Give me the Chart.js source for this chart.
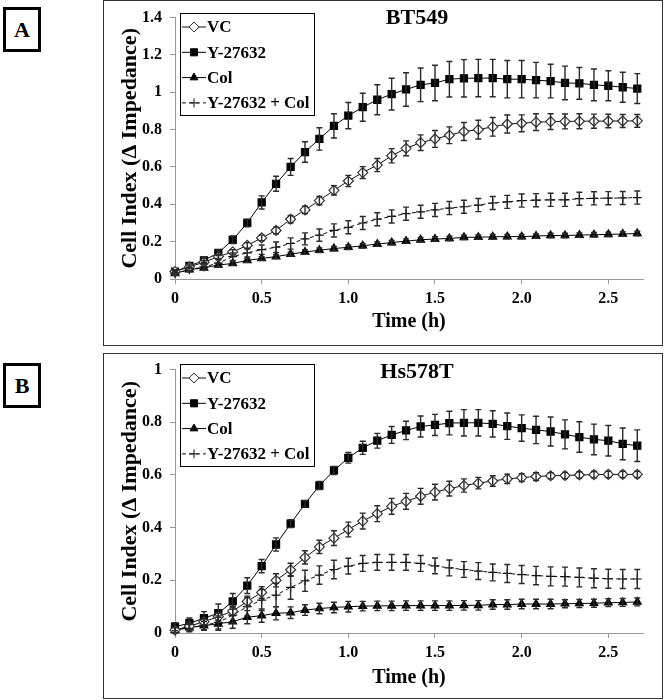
<!DOCTYPE html>
<html>
<head>
<meta charset="utf-8">
<script src="https://cdn.jsdelivr.net/npm/chart.js@4.4.0/dist/chart.umd.min.js"></script>
<style>
body { margin:0; background:#fff; width:665px; height:700px; position:relative; overflow:hidden; }
.panel { position:absolute; left:103px; width:560px; border:1.5px solid #333; box-sizing:border-box; }
.tag { position:absolute; left:3px; width:38px; height:45px; border:3px solid #000; box-sizing:border-box;
       font:bold 22px 'Liberation Serif', serif; text-align:center; line-height:39px; }
canvas { position:absolute; left:103px; }
</style>
</head>
<body>
<div class="tag" style="top:7px">A</div>
<div class="tag" style="top:363px">B</div>
<div class="panel" style="top:0px;height:346px"></div>
<div class="panel" style="top:353px;height:346px"></div>
<canvas id="chartA" width="560" height="345" style="top:0px"></canvas>
<canvas id="chartB" width="560" height="348" style="top:352px"></canvas>
<script>
// time points, hours (every 5 min)
var times = [0, 0.083, 0.167, 0.25, 0.333, 0.417, 0.5, 0.583, 0.667, 0.75, 0.833, 0.917, 1, 1.083, 1.167, 1.25,
             1.333, 1.417, 1.5, 1.583, 1.667, 1.75, 1.833, 1.917, 2, 2.083, 2.167, 2.25, 2.333, 2.417, 2.5, 2.583, 2.667];
var seriesNames = ['VC', 'Y-27632', 'Col', 'Y-27632 + Col'];

// BT549
var bt549VC = [0.04,0.065,0.09,0.12,0.145,0.18,0.22,0.26,0.32,0.37,0.42,0.475,0.525,0.57,0.61,0.66,0.70,0.73,0.75,0.77,0.79,0.80,0.815,0.83,0.834,0.84,0.843,0.844,0.845,0.845,0.846,0.846,0.847];
var bt549VCErr = [0.005,0.005,0.008,0.01,0.012,0.015,0.015,0.018,0.02,0.02,0.022,0.025,0.03,0.032,0.035,0.038,0.04,0.042,0.045,0.045,0.048,0.05,0.05,0.048,0.045,0.045,0.042,0.04,0.04,0.038,0.036,0.035,0.034];
var bt549Y = [0.04,0.07,0.10,0.14,0.21,0.30,0.41,0.51,0.60,0.68,0.75,0.82,0.875,0.92,0.96,0.99,1.015,1.04,1.05,1.07,1.075,1.076,1.076,1.07,1.07,1.065,1.06,1.05,1.048,1.04,1.035,1.027,1.02];
var bt549YErr = [0.01,0.01,0.012,0.015,0.02,0.02,0.035,0.04,0.045,0.055,0.06,0.065,0.07,0.075,0.08,0.085,0.09,0.09,0.095,0.095,0.1,0.1,0.1,0.1,0.1,0.095,0.09,0.09,0.085,0.085,0.08,0.08,0.08];
var bt549Col = [0.03,0.05,0.06,0.075,0.083,0.10,0.11,0.12,0.133,0.145,0.154,0.163,0.17,0.178,0.187,0.195,0.203,0.21,0.214,0.217,0.223,0.224,0.226,0.227,0.227,0.23,0.233,0.233,0.235,0.237,0.239,0.241,0.244];
var bt549ColErr = [0.008,0.008,0.008,0.01,0.01,0.01,0.01,0.01,0.01,0.012,0.012,0.012,0.012,0.012,0.012,0.012,0.012,0.012,0.012,0.012,0.012,0.012,0.012,0.012,0.012,0.012,0.012,0.012,0.012,0.012,0.012,0.012,0.012];
var bt549YCol = [0.03,0.05,0.065,0.085,0.12,0.14,0.157,0.17,0.19,0.215,0.235,0.26,0.277,0.30,0.32,0.335,0.35,0.36,0.37,0.38,0.387,0.396,0.407,0.413,0.42,0.422,0.424,0.424,0.43,0.432,0.433,0.434,0.436];
var bt549YColErr = [0.01,0.012,0.015,0.018,0.02,0.022,0.025,0.028,0.03,0.032,0.033,0.035,0.035,0.035,0.035,0.035,0.035,0.035,0.035,0.035,0.035,0.035,0.035,0.035,0.035,0.035,0.035,0.035,0.035,0.035,0.035,0.035,0.035];

// Hs578T
var hsVC = [0.011,0.026,0.043,0.062,0.083,0.12,0.154,0.2,0.24,0.287,0.327,0.36,0.393,0.425,0.453,0.481,0.5,0.519,0.535,0.548,0.56,0.569,0.577,0.585,0.59,0.594,0.597,0.598,0.6,0.601,0.602,0.602,0.602];
var hsVCErr = [0.01,0.01,0.012,0.015,0.018,0.02,0.022,0.025,0.025,0.025,0.025,0.028,0.028,0.03,0.03,0.03,0.03,0.03,0.03,0.028,0.025,0.022,0.02,0.018,0.015,0.015,0.012,0.012,0.012,0.012,0.012,0.012,0.012];
var hsY = [0.024,0.037,0.056,0.075,0.12,0.18,0.254,0.336,0.415,0.49,0.56,0.617,0.665,0.703,0.73,0.752,0.769,0.784,0.79,0.797,0.798,0.798,0.794,0.785,0.778,0.771,0.765,0.754,0.744,0.735,0.73,0.718,0.711];
var hsYErr = [0.015,0.02,0.025,0.035,0.03,0.03,0.025,0.025,0.015,0.012,0.015,0.015,0.02,0.025,0.028,0.032,0.035,0.04,0.04,0.045,0.05,0.05,0.05,0.05,0.05,0.052,0.055,0.055,0.058,0.058,0.058,0.06,0.06];
var hsCol = [0.011,0.02,0.028,0.035,0.043,0.06,0.066,0.075,0.077,0.087,0.093,0.097,0.1,0.102,0.103,0.103,0.104,0.104,0.104,0.104,0.105,0.105,0.108,0.108,0.11,0.11,0.11,0.111,0.112,0.113,0.115,0.116,0.118];
var hsColErr = [0.01,0.012,0.015,0.025,0.025,0.025,0.025,0.025,0.022,0.02,0.02,0.02,0.02,0.018,0.018,0.018,0.018,0.018,0.018,0.018,0.018,0.018,0.018,0.018,0.018,0.018,0.018,0.015,0.015,0.015,0.015,0.015,0.015];
var hsYCol = [0.012,0.02,0.03,0.04,0.068,0.1,0.125,0.144,0.173,0.198,0.22,0.241,0.254,0.264,0.268,0.268,0.268,0.264,0.255,0.247,0.241,0.235,0.23,0.226,0.222,0.218,0.215,0.214,0.211,0.208,0.206,0.205,0.205];
var hsYColErr = [0.01,0.015,0.02,0.025,0.03,0.035,0.04,0.045,0.045,0.04,0.035,0.035,0.03,0.03,0.03,0.03,0.03,0.03,0.03,0.03,0.03,0.032,0.032,0.034,0.034,0.035,0.036,0.036,0.036,0.036,0.036,0.036,0.036];

var serif = "'Liberation Serif', 'Times New Roman', serif";

// error bars, drawn on top so they show through the open diamonds
const errorBars = {
    id: 'errorBars',
    afterDatasetsDraw(chart) {
        const ctx = chart.ctx, x = chart.scales.x, y = chart.scales.y;
        ctx.save();
        ctx.strokeStyle = '#2a2a2a';
        ctx.lineWidth = 1.4;
        chart.data.datasets.forEach(ds => {
            ds.data.forEach((p, i) => {
                const e = ds.errors[i];
                const px = x.getPixelForValue(p.x);
                const top = y.getPixelForValue(p.y + e), bot = y.getPixelForValue(p.y - e);
                ctx.beginPath();
                ctx.moveTo(px, top); ctx.lineTo(px, bot);
                ctx.moveTo(px - 3, top); ctx.lineTo(px + 3, top);
                ctx.moveTo(px - 3, bot); ctx.lineTo(px + 3, bot);
                ctx.stroke();
            });
        });
        ctx.restore();
    }
};

// boxed legend in the upper left plus the cell line name
const boxLegend = {
    id: 'boxLegend',
    afterDraw(chart, args, opts) {
        const ctx = chart.ctx;
        ctx.save();
        ctx.fillStyle = '#fff';
        ctx.fillRect(opts.x, opts.y, 134, 102);
        ctx.strokeStyle = '#000';
        ctx.lineWidth = 1;
        ctx.strokeRect(opts.x + 0.5, opts.y + 0.5, 134, 102);
        chart.data.datasets.forEach((ds, i) => {
            const cy = opts.y + 14 + i * 25.3;
            ctx.strokeStyle = ds.borderColor;
            ctx.lineWidth = 1;
            ctx.setLineDash(ds.borderDash || []);
            ctx.beginPath();
            ctx.moveTo(opts.x + 2, cy); ctx.lineTo(opts.x + 26, cy);
            ctx.stroke();
            ctx.setLineDash([]);
            ctx.fillStyle = ds.pointBackgroundColor;
            ctx.strokeStyle = ds.pointBorderColor;
            Chart.helpers.drawPoint(ctx, {pointStyle: ds.pointStyle, radius: ds.pointRadius, rotation: 0, borderWidth: 1},
                opts.x + 14, cy);
            ctx.fillStyle = '#000';
            ctx.font = 'bold 17px ' + serif;
            ctx.textBaseline = 'middle';
            ctx.fillText(seriesNames[i], opts.x + 27, cy + 1);
        });
        ctx.font = 'bold 22px ' + serif;
        ctx.textAlign = 'center';
        ctx.fillText(opts.title, opts.titleX, opts.titleY);
        ctx.restore();
    }
};

function pts(vals) {
    return vals.map((v, i) => ({x: times[i], y: v}));
}

function makeChart(id, vals, errs, yMax, padTop, xAxisH, titlePadB, legendY, title, titleY) {
    var styles = [
        {pointStyle: 'rectRot', pointRadius: 5, pointBackgroundColor: '#fff', pointBorderColor: '#333', borderColor: '#111'},
        {pointStyle: 'rect', pointRadius: 5, pointBackgroundColor: '#000', pointBorderColor: '#000', borderColor: '#000'},
        {pointStyle: 'triangle', pointRadius: 4.5, pointBackgroundColor: '#000', pointBorderColor: '#000', borderColor: '#000'},
        {pointStyle: 'cross', pointRadius: 4.5, pointBackgroundColor: '#000', pointBorderColor: '#111', borderColor: '#111', borderDash: [4, 3]}
    ];
    var datasets = vals.map((v, i) => Object.assign({
        data: pts(v),
        errors: errs[i],
        borderWidth: 1,
        pointBorderWidth: 1.2,
        clip: false
    }, styles[i]));

    new Chart(document.getElementById(id), {
        type: 'line',
        data: {datasets: datasets},
        plugins: [errorBars, boxLegend],
        options: {
            responsive: false,
            animation: false,
            layout: {padding: {left: 0, right: 20, top: padTop, bottom: 0}},
            plugins: {
                legend: {display: false},
                tooltip: {enabled: false},
                boxLegend: {x: 77, y: legendY, title: title, titleX: 314, titleY: titleY}
            },
            scales: {
                x: {
                    type: 'linear', min: 0, max: 2.7,
                    afterFit: s => { s.height = xAxisH; },
                    border: {color: '#999'},
                    grid: {drawOnChartArea: false, tickLength: 5, color: '#999'},
                    ticks: {stepSize: 0.5, includeBounds: false, padding: 5, color: '#000',
                            font: {family: serif, size: 16, weight: 'bold'}},
                    title: {display: true, text: 'Time (h)', color: '#000', padding: {top: 0, bottom: titlePadB},
                            font: {family: serif, size: 20, weight: 'bold'}}
                },
                y: {
                    min: 0, max: yMax,
                    afterFit: s => { s.width = 72; },
                    border: {color: '#999'},
                    grid: {drawOnChartArea: false, tickLength: 5, color: '#999'},
                    ticks: {stepSize: 0.2, padding: 8, color: '#000',
                            font: {family: serif, size: 16, weight: 'bold'},
                            callback: v => String(Number(v.toFixed(1)))},
                    title: {display: true, text: 'Cell Index (\u0394 Impedance)', color: '#000', padding: {top: 14, bottom: 0},
                            font: {family: serif, size: 22, weight: 'bold'}}
                }
            }
        }
    });
}

makeChart('chartA', [bt549VC, bt549Y, bt549Col, bt549YCol], [bt549VCErr, bt549YErr, bt549ColErr, bt549YColErr],
          1.4, 15, 66, 11, 13, 'BT549', 18);
makeChart('chartB', [hsVC, hsY, hsCol, hsYCol], [hsVCErr, hsYErr, hsColErr, hsYColErr],
          1, 17, 67, 10, 12, 'Hs578T', 20);
</script>
</body>
</html>
